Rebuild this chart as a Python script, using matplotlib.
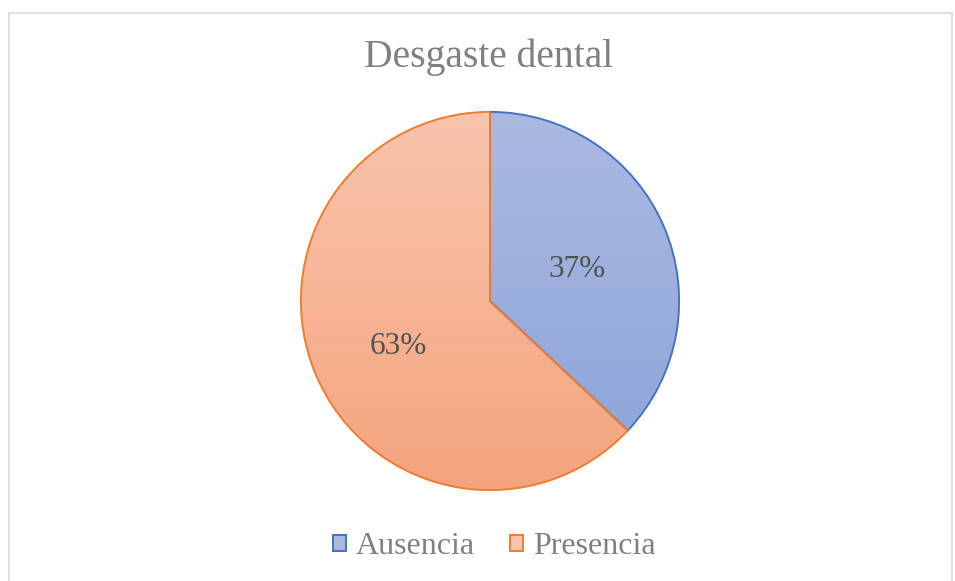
import matplotlib
matplotlib.use("Agg")
import matplotlib.pyplot as plt
import numpy as np
from matplotlib.colors import LinearSegmentedColormap
from matplotlib.patches import Patch, Rectangle

# data
categories = ["Ausencia", "Presencia"]
values = [37, 63]
edge_colors = ["#4472C4", "#ED7D31"]
top_colors = ["#AAB9E1", "#F9C4AD"]
bottom_colors = ["#8CA4DA", "#F4A47D"]
label_dist = [0.50, 0.53]

plt.rcParams['font.family'] = ['Liberation Serif', 'DejaVu Serif']

fig = plt.figure(figsize=(9.55, 5.81), dpi=100)
fig.patches.append(Rectangle((9 / 955, -0.01), 943 / 955, 1 - 13 / 581 + 0.01,
                             transform=fig.transFigure, fill=False,
                             edgecolor="#D9D9D9", linewidth=1.2))

r_px = 191
cx, cy = 490, 581 - 301
ax = fig.add_axes([(cx - r_px) / 955, (cy - r_px) / 581, 2 * r_px / 955, 2 * r_px / 581])

wedges, _ = ax.pie(values, startangle=90, counterclock=False, radius=1,
                   wedgeprops=dict(linewidth=1.4))
ax.set_xlim(-1.01, 1.01)
ax.set_ylim(-1.01, 1.01)
ax.axis("off")

# gradient fill clipped to each wedge
for w, ec, tc, bc in zip(wedges, edge_colors, top_colors, bottom_colors):
    w.set_facecolor("none")
    w.set_edgecolor(ec)
    cmap = LinearSegmentedColormap.from_list("g", [bc, tc])
    grad = np.linspace(0, 1, 256).reshape(-1, 1)
    im = ax.imshow(grad, cmap=cmap, extent=[-1, 1, -1, 1], origin="lower",
                   aspect="auto", zorder=0)
    im.set_clip_path(w)

# percentage labels
total = sum(values)
start = 90.0
for v, d in zip(values, label_dist):
    sweep = 360.0 * v / total
    mid = np.deg2rad(start - sweep / 2)
    ax.text(d * np.cos(mid), d * np.sin(mid) - 0.03, f"{v}%", ha="center", va="center",
            fontsize=22.5, color="#505050")
    start -= sweep

fig.text(489 / 955, 1 - 57 / 581, "Desgaste dental", ha="center", va="center",
         fontsize=28.5, color="#808080")

handles = [Patch(facecolor=(tc), edgecolor=ec, linewidth=1.4)
           for ec, tc in zip(edge_colors, top_colors)]
fig.legend(handles, categories, loc="center", bbox_to_anchor=(494 / 955, 1 - 547 / 581),
           ncol=2, frameon=False, fontsize=23, labelcolor="#808080",
           handlelength=0.42, handleheight=0.42, handletextpad=0.3, columnspacing=1.1)

fig.savefig("out.png", dpi=100)
